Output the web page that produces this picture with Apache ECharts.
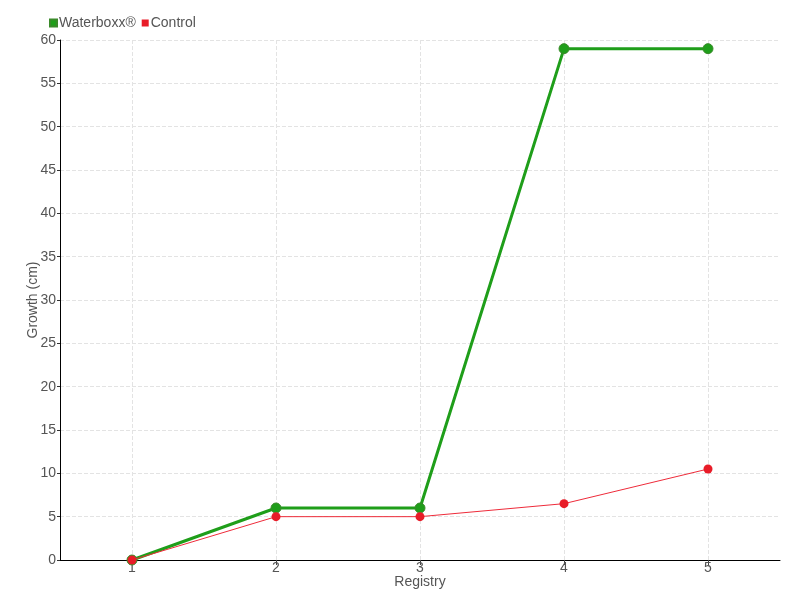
<!DOCTYPE html>
<html><head><meta charset="utf-8">
<script src="https://cdn.jsdelivr.net/npm/echarts@6/dist/echarts.min.js"></script>
<style>html,body{margin:0;padding:0;background:#fff}#c{width:800px;height:600px}</style>
</head><body><div id="c"></div>
<script>
const categories = ['1','2','3','4','5'];
const waterboxx = [0, 6, 6, 59, 59];
const control = [0, 5, 5, 6.5, 10.5];
const seriesNames = ['Waterboxx®', 'Control'];

const font = '"Liberation Sans Narrow", "Liberation Sans", sans-serif';
const chart = echarts.init(document.getElementById('c'));
chart.setOption({
  animation: false,
  textStyle: {fontFamily: font, color: '#555'},
  legend: {
    left: 44, top: 11, itemWidth: 7, itemHeight: 7, itemGap: 6,
    icon: 'rect',
    textStyle: {fontFamily: font, fontSize: 14, color: '#555', padding: [0,0,0,-3]},
    data: seriesNames
  },
  grid: {left: 60, right: 20, top: 40, bottom: 40, containLabel: false, outerBoundsMode: 'none'},
  xAxis: {
    type: 'category', data: categories, boundaryGap: true,
    name: 'Registry', nameLocation: 'middle', nameGap: 15, nameMoveOverlap: false,
    nameTextStyle: {fontFamily: font, fontSize: 14, color: '#555'},
    axisLine: {lineStyle: {color: '#000', width: 1}},
    axisTick: {show: true, alignWithLabel: true, length: 5, lineStyle: {color: '#444', width: 1}},
    axisLabel: {fontFamily: font, fontSize: 14, color: '#555', margin: 1},
    splitLine: {show: true, alignWithLabel: true, lineStyle: {type: 'dashed', color: '#e3e3e3'}}
  },
  yAxis: {
    type: 'value', min: 0, max: 60, interval: 5,
    name: 'Growth (cm)', nameLocation: 'middle', nameGap: 20, nameMoveOverlap: false,
    nameTextStyle: {fontFamily: font, fontSize: 14, color: '#555'},
    axisLine: {show: true, lineStyle: {color: '#000', width: 1}},
    axisTick: {show: true, length: 3, lineStyle: {color: '#333'}},
    axisLabel: {fontFamily: font, fontSize: 14, color: '#555', margin: 4},
    splitLine: {show: true, lineStyle: {type: 'dashed', color: '#e3e3e3'}}
  },
  series: [
    {
      name: seriesNames[0], type: 'line', data: waterboxx,
      symbol: 'circle', symbolSize: 10,
      lineStyle: {color: '#1f9e1a', width: 3},
      itemStyle: {color: '#1f9e1a', borderColor: '#3a8a2a', borderWidth: 1},
      z: 2
    },
    {
      name: seriesNames[1], type: 'line', data: control,
      symbol: 'circle', symbolSize: 9,
      lineStyle: {color: '#ee2b3a', width: 1},
      itemStyle: {color: '#e81c28'},
      z: 3
    }
  ]
});
</script></body></html>
